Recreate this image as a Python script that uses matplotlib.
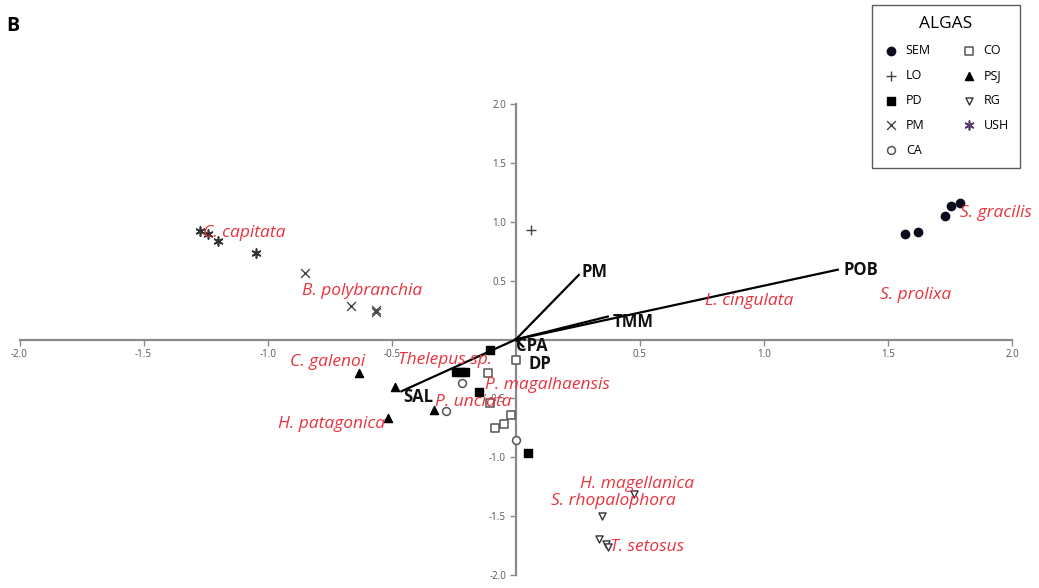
import matplotlib
matplotlib.use("Agg")
import matplotlib.pyplot as plt

plt.rcParams['axes.unicode_minus'] = False
plt.rcParams['font.family'] = ['Open Sans', 'DejaVu Sans']

# site scores per algae group (x, y)
sem_x = [1.79, 1.754, 1.73, 1.57, 1.62]
sem_y = [1.16, 1.136, 1.053, 0.898, 0.909]
lo_x = [0.063]
lo_y = [0.93]
pd_x = [-0.105, -0.24, -0.22, -0.205, -0.149, 0.05]
pd_y = [-0.093, -0.277, -0.277, -0.272, -0.446, -0.96]
pm_x = [-0.851, -0.662, -0.562, -0.565]
pm_y = [0.565, 0.287, 0.251, 0.231]
ca_x = [-0.215, -0.28, 0.0]
ca_y = [-0.367, -0.61, -0.856]
co_x = [0.003, -0.112, -0.105, -0.021, -0.048, -0.085]
co_y = [-0.178, -0.285, -0.54, -0.638, -0.72, -0.75]
psj_x = [-0.632, -0.488, -0.515, -0.331]
psj_y = [-0.282, -0.404, -0.664, -0.60]
rg_x = [0.476, 0.348, 0.336, 0.363, 0.372]
rg_y = [-1.308, -1.50, -1.692, -1.737, -1.765]
ush_x = [-1.274, -1.24, -1.20, -1.046]
ush_y = [0.918, 0.896, 0.833, 0.731]

# environmental vectors
env_names = ['PM', 'POB', 'TMM', 'SAL', 'CPA', 'DP']
env_x = [0.254, 1.298, 0.371, -0.461, 0.01, 0.03]
env_y = [0.548, 0.593, 0.195, -0.44, -0.02, -0.06]
env_lab_x = [0.265, 1.32, 0.39, -0.455, 0.0, 0.05]
env_lab_y = [0.57, 0.59, 0.145, -0.49, -0.055, -0.21]

# species labels
species = ['C. capitata', 'B. polybranchia', 'C. galenoi', 'Thelepus sp.', 'H. patagonica',
           'P. magalhaensis', 'P. unciata', 'L. cingulata', 'S. prolixa', 'S. gracilis',
           'H. magellanica', 'S. rhopalophora', 'T. setosus']
sp_x = [-1.262, -0.863, -0.911, -0.476, -0.96, -0.122, -0.327, 0.762, 1.468, 1.79, 0.258, 0.141, 0.379]
sp_y = [0.907, 0.415, -0.195, -0.178, -0.72, -0.39, -0.531, 0.33, 0.381, 1.076, -1.223, -1.37, -1.765]

ticks = [-2.0, -1.5, -1.0, -0.5, 0.5, 1.0, 1.5, 2.0]

fig = plt.figure(figsize=(10.39, 5.88), dpi=100)
ax = fig.add_axes([19.5 / 1039, 13 / 588, 992.5 / 1039, 471 / 588])
ax.set_xlim(-2, 2)
ax.set_ylim(-2, 2)

for s in ['top', 'right']:
    ax.spines[s].set_visible(False)
for s in ['left', 'bottom']:
    ax.spines[s].set_position(('data', 0))
    ax.spines[s].set_color('#8a8a8a')
    ax.spines[s].set_linewidth(1.6)
    ax.spines[s].set_bounds(-2, 2)

ax.set_xticks(ticks)
ax.set_yticks(ticks)
ax.set_xticklabels(['%.1f' % t for t in ticks])
ax.set_yticklabels(['%.1f' % t for t in ticks])
ax.tick_params(direction='out', length=4, width=1, color='#8a8a8a',
               labelsize=7, labelcolor='#555555', pad=3)

ax.scatter(sem_x, sem_y, marker='o', s=36, color='#0b0b1e', label='SEM', zorder=3)
ax.scatter(lo_x, lo_y, marker='+', s=50, color='#444444', linewidths=1, label='LO', zorder=3)
ax.scatter(pd_x, pd_y, marker='s', s=30, color='black', label='PD', zorder=3)
ax.scatter(pm_x, pm_y, marker='x', s=40, color='#444444', linewidths=1, label='PM', zorder=3)
ax.scatter(ca_x, ca_y, marker='o', s=32, facecolors='white', edgecolors='#555555', linewidths=1.1, label='CA', zorder=3)
ax.scatter(co_x, co_y, marker='s', s=32, facecolors='white', edgecolors='#555555', linewidths=1.1, label='CO', zorder=3)
ax.scatter(psj_x, psj_y, marker='^', s=34, color='black', label='PSJ', zorder=3)
ax.scatter(rg_x, rg_y, marker='v', s=26, facecolors='white', edgecolors='#333333', linewidths=1, label='RG', zorder=3)
ax.scatter(ush_x, ush_y, marker=(6, 2, 0), s=40, color='#333333', linewidths=1.2, label='USH', zorder=3)

for i in range(len(env_names)):
    ax.plot([0, env_x[i]], [0, env_y[i]], color='black', linewidth=1.6, zorder=4)
    ax.text(env_lab_x[i], env_lab_y[i], env_names[i], fontsize=12, fontweight='bold',
            ha='left', va='center', color='#111111', zorder=5)

for i in range(len(species)):
    ax.text(sp_x[i], sp_y[i], species[i], fontsize=12.5, style='italic', color='#e8333f',
            ha='left', va='center', zorder=6)

leg = ax.legend(ncol=2, title='ALGAS', loc='upper right', bbox_to_anchor=(1020 / 1039, 1 - 5 / 588),
                bbox_transform=fig.transFigure, borderaxespad=0, fontsize=9, title_fontsize=12.5,
                frameon=True, fancybox=False, edgecolor='#333333', labelspacing=0.95,
                columnspacing=2.4, handletextpad=0.6, handlelength=1.2, borderpad=0.9,
                scatterpoints=1)
leg.get_frame().set_linewidth(1.0)
leg.legend_handles[-1].set_color('#5a3d6e')

fig.text(0.006, 0.955, 'B', fontsize=14, fontweight='bold', ha='left', va='center')

fig.savefig('out.png', dpi=100)
